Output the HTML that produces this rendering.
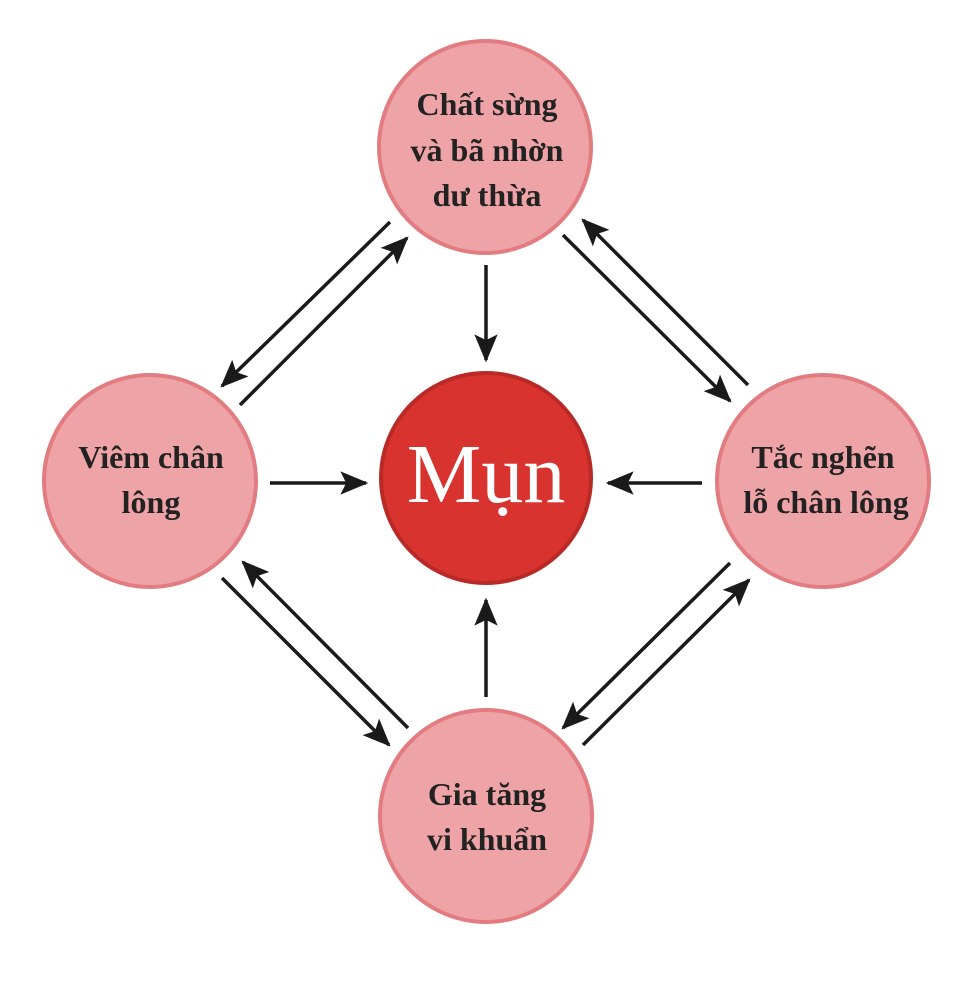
<!DOCTYPE html>
<html><head><meta charset="utf-8"><style>
html,body{margin:0;padding:0;background:#fff;}
</style></head><body>
<svg width="967" height="993" viewBox="0 0 967 993" xmlns="http://www.w3.org/2000/svg">
<defs>
<marker id="a" viewBox="0 0 12 10" refX="11" refY="5" markerWidth="28" markerHeight="24" markerUnits="userSpaceOnUse" orient="auto">
<path d="M0,0 L12,5 L0,10 L2.5,5 Z" fill="#1a1a1a"/>
</marker>
</defs>
<g fill="#eea3a7" stroke="#e27c80" stroke-width="4">
<circle cx="485" cy="147" r="106"/>
<circle cx="150" cy="481" r="106"/>
<circle cx="823" cy="481" r="106"/>
<circle cx="486" cy="816" r="106"/>
</g>
<circle cx="486" cy="478" r="105" fill="#d8332f" stroke="#b92a27" stroke-width="4"/>
<g stroke="#1a1a1a" stroke-width="3.5" fill="none" marker-end="url(#a)">
<line x1="486" y1="265" x2="486" y2="360"/>
<line x1="270" y1="483" x2="366" y2="483"/>
<line x1="702" y1="483" x2="608" y2="483"/>
<line x1="486" y1="697" x2="486" y2="600"/>
<line x1="390" y1="222" x2="222" y2="386"/>
<line x1="240" y1="405" x2="407" y2="238"/>
<line x1="563" y1="235" x2="730" y2="401"/>
<line x1="748" y1="385" x2="583" y2="220"/>
<line x1="222" y1="578" x2="389" y2="745"/>
<line x1="408" y1="728" x2="243" y2="562"/>
<line x1="583" y1="745" x2="749" y2="580"/>
<line x1="730" y1="563" x2="563" y2="728"/>
</g>
<g font-family="Liberation Serif, serif" font-weight="bold" font-size="32" fill="#222" text-anchor="middle">
<text x="487" y="115">Chất sừng</text>
<text x="487" y="161">và bã nhờn</text>
<text x="487" y="206">dư thừa</text>
<text x="151" y="468">Viêm chân</text>
<text x="151" y="513">lông</text>
<text x="823" y="468">Tắc nghẽn</text>
<text x="826" y="513">lỗ chân lông</text>
<text x="487" y="805">Gia tăng</text>
<text x="487" y="850">vi khuẩn</text>
</g>
<text x="486" y="502" font-family="Liberation Serif, serif" font-size="84" fill="#fff" text-anchor="middle">Mụn</text>
</svg>
</body></html>
